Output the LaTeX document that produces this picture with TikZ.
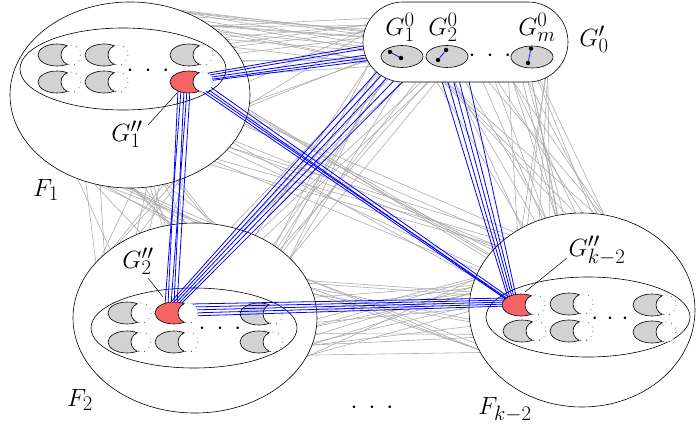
\documentclass[tikz,border=0pt]{standalone}
\usetikzlibrary{shapes.geometric,calc,backgrounds}
\definecolor{gadgetred}{RGB}{245,100,100}
\definecolor{gadgetgray}{RGB}{210,210,210}
\definecolor{edgegray}{RGB}{172,172,172}
\tikzset{
  region/.style={draw, fill=white, ellipse, inner sep=0pt, line width=0.6pt},
  innerreg/.style={draw, ellipse, inner sep=0pt, line width=0.6pt},
  grayedge/.style={draw=edgegray, line width=0.6pt},
  blueedge/.style={draw=blue, line width=0.8pt},
  lab/.style={font=\Huge, inner sep=0pt},
  ptr/.style={draw, line width=0.5pt},
  smallell/.style={draw, fill=gadgetgray, ellipse, inner sep=0pt, line width=0.6pt, minimum width=42pt, minimum height=22pt},
  vdot/.style={circle, fill=black, inner sep=0pt, minimum size=4.5pt},
}
\newcommand\gadg[3]{%
  \begin{scope}[shift={(#1,#2)}]
    \draw[line width=0.6pt, fill=#3] (-14,0) ellipse (19 and 11);
    \fill[white] (0,0) circle (10);
    \begin{scope}
      \clip (-14,0) ellipse (19 and 11);
      \draw[line width=0.6pt] (0,0) circle (10);
    \end{scope}
    \draw[line width=0.5pt, dash pattern=on 0.8pt off 5pt] (0,0) circle (10);
  \end{scope}}
\begin{document}
\begin{tikzpicture}[x=1pt,y=-1pt]
\useasboundingbox (0,0) rectangle (696,431);
% regions
\node[region, minimum width=240, minimum height=186] (F1) at (130,95) {};
\node[region, minimum width=244, minimum height=190] (F2) at (195,318) {};
\node[region, minimum width=226, minimum height=194] (Fk) at (582,310) {};
\node[innerreg, minimum width=206, minimum height=82] (I1) at (123,69) {};
\node[innerreg, minimum width=206, minimum height=80] (I2) at (194,328) {};
\node[innerreg, minimum width=204, minimum height=80] (Ik) at (588,317) {};
% gray gadgets
\gadg{71}{55}{gadgetgray}\gadg{118}{55}{gadgetgray}\gadg{203}{55}{gadgetgray}
\gadg{71}{82}{gadgetgray}\gadg{118}{82}{gadgetgray}
\gadg{141}{313}{gadgetgray}\gadg{273}{314}{gadgetgray}
\gadg{141}{342}{gadgetgray}\gadg{188}{342}{gadgetgray}\gadg{273}{342}{gadgetgray}
\gadg{583}{304}{gadgetgray}\gadg{666}{305}{gadgetgray}
\gadg{536}{331}{gadgetgray}\gadg{583}{331}{gadgetgray}\gadg{666}{332}{gadgetgray}
% red gadget coordinates
\coordinate (R1) at (203,82);
\coordinate (R2) at (188,313);
\coordinate (R3) at (535,305);
\coordinate (G0c) at (465.5,42);
% blue bundles
\foreach \a/\b/\c/\d in {0/-8/-85/1, 1/-6/-85/4, 2/-4/-85/11, 3/-2/-85/14, 4/-1/-85/17}
  \draw[blueedge] ($(R1)+(\a,\b)$) -- ($(G0c)+(\c,\d)$);
\foreach \a/\b/\c/\d in {-25/8/-20/-8, -22/8/-23/-8, -19/8/-14/-8, -16/8/-17/-8, -13/8/-11/-8}
  \draw[blueedge] ($(R1)+(\a,\b)$) -- ($(R2)+(\c,\d)$);
\foreach \a/\b/\c/\d in {-3/8/-28/-5, 0/7/-27/-6, 3/6/-26/-4, 6/4/-25/-7}
  \draw[blueedge] ($(R1)+(\a,\b)$) -- ($(R3)+(\c,\d)$);
\foreach \a/\b/\c/\d in {-18/-10/-87/28, -15/-10/-81/30, -12/-10/-75/32, -9/-10/-67/34, -6/-10/-59/36}
  \draw[blueedge] ($(R2)+(\a,\b)$) -- ($(G0c)+(\c,\d)$);
\foreach \a/\b/\c/\d in {-27/28/-27/-7, -21/28/-25/-7, -15/28/-23/-8, -9/28/-21/-8, 1/28/-19/-9}
  \draw[blueedge] ($(G0c)+(\a,\b)$) -- ($(R3)+(\c,\d)$);
\foreach \a/\b/\c/\d in {2/-9/-27/-7, 2/-6/-27/-5, 2/-3/-27/-3, 2/0/-27/-1, 2/3/-27/1}
  \draw[blueedge] ($(R2)+(\a,\b)$) -- ($(R3)+(\c,\d)$);
% red gadgets
\gadg{203}{82}{gadgetred}
\gadg{188}{313}{gadgetred}
\gadg{535}{305}{gadgetred}
% G'_0 box
\node[draw, fill=white, rounded corners=40pt, line width=0.6pt, minimum width=205, minimum height=80, inner sep=0pt] (G0) at (G0c) {};
\node[smallell] (S1) at (402,56.5) {};
\node[smallell] (S2) at (447,56.5) {};
\node[smallell] (Sm) at (532,57) {};
\node[vdot] (S1a) at (390,52) {};
\node[vdot] (S1b) at (401,58) {};
\node[vdot] (S2a) at (446,50) {};
\node[vdot] (S2b) at (438,60) {};
\node[vdot] (Sma) at (531,48.5) {};
\node[vdot] (Smb) at (528,63) {};
\draw[blue, line width=0.7pt] (S1a) -- (S1b);
\draw[blue, line width=0.7pt] (S2a) -- (S2b);
\draw[blue, line width=0.7pt] (Sma) -- (Smb);
% gray edges behind
\begin{pgfonlayer}{background}
\pgfmathsetseed{4242}
\foreach \i in {1,...,26}{
  \pgfmathsetmacro\ta{-78+95*rnd}
  \pgfmathsetmacro\tb{140+85*rnd}
  \draw[grayedge] ($(F1.center)+(\ta:116 and 90)$) -- ($(G0.center)+(\tb:98 and 37)$);}
\foreach \i in {1,...,28}{
  \pgfmathsetmacro\ta{62+56*rnd}
  \pgfmathsetmacro\tb{-150+88*rnd}
  \draw[grayedge] ($(F1.center)+(\ta:116 and 90)$) -- ($(F2.center)+(\tb:118 and 91)$);}
\foreach \i in {1,...,24}{
  \pgfmathsetmacro\ta{-35+63*rnd}
  \pgfmathsetmacro\tb{152+53*rnd}
  \draw[grayedge] ($(F2.center)+(\ta:118 and 91)$) -- ($(Fk.center)+(\tb:109 and 93)$);}
\foreach \i in {1,...,26}{
  \pgfmathsetmacro\ta{30+80*rnd}
  \pgfmathsetmacro\tb{-128+56*rnd}
  \draw[grayedge] ($(G0.center)+(\ta:98 and 37)$) -- ($(Fk.center)+(\tb:109 and 93)$);}
\foreach \i in {1,...,14}{
  \pgfmathsetmacro\ta{5+45*rnd}
  \pgfmathsetmacro\tb{-165+40*rnd}
  \draw[grayedge] ($(F1.center)+(\ta:116 and 90)$) -- ($(Fk.center)+(\tb:109 and 93)$);}
\foreach \i in {1,...,16}{
  \pgfmathsetmacro\ta{-75+40*rnd}
  \pgfmathsetmacro\tb{105+55*rnd}
  \draw[grayedge] ($(F2.center)+(\ta:118 and 91)$) -- ($(G0.center)+(\tb:98 and 37)$);}
\end{pgfonlayer}
% labels
\node[lab] (lG1) at (127,134) {$G_1''$};
\node[lab] (lG2) at (138,261) {$G_2''$};
\node[lab] (lGk) at (597,251) {$G_{k-2}''$};
\node[lab] (lF1) at (46,190) {$F_1$};
\node[lab] (lF2) at (80,400) {$F_2$};
\node[lab] (lFk) at (505,410) {$F_{k-2}$};
\node[lab] (l01) at (400,27) {$G^0_1$};
\node[lab] (l02) at (443,27) {$G^0_2$};
\node[lab] (l0m) at (537,27) {$G^0_m$};
\node[lab] (l0p) at (594,39) {$G'_0$};
% pointers
\coordinate (p1a) at (148,125); \coordinate (p1b) at (177,93);
\coordinate (p2a) at (148,278); \coordinate (p2b) at (163,297);
\coordinate (p3a) at (567,258); \coordinate (p3b) at (525,292);
\draw[ptr] (p1a) -- (p1b);
\draw[ptr] (p2a) -- (p2b);
\draw[ptr] (p3a) -- (p3b);
% dots
\node[lab, anchor=base] (d1) at (148,76) {$\cdot\mkern4mu\cdot\mkern4mu\cdot$};
\node[lab, anchor=base] (d2) at (220,334) {$\cdot\mkern4mu\cdot\mkern4mu\cdot$};
\node[lab, anchor=base] (d3) at (610,324) {$\cdot\mkern2mu\cdot\mkern2mu\cdot$};
\node[lab, anchor=base] (d4) at (490,61) {$\cdot\mkern4mu\cdot\mkern4mu\cdot$};
\node[lab, anchor=base] (d5) at (372,413) {$\cdot\mkern4mu\cdot\mkern4mu\cdot$};
\end{tikzpicture}
\end{document}
